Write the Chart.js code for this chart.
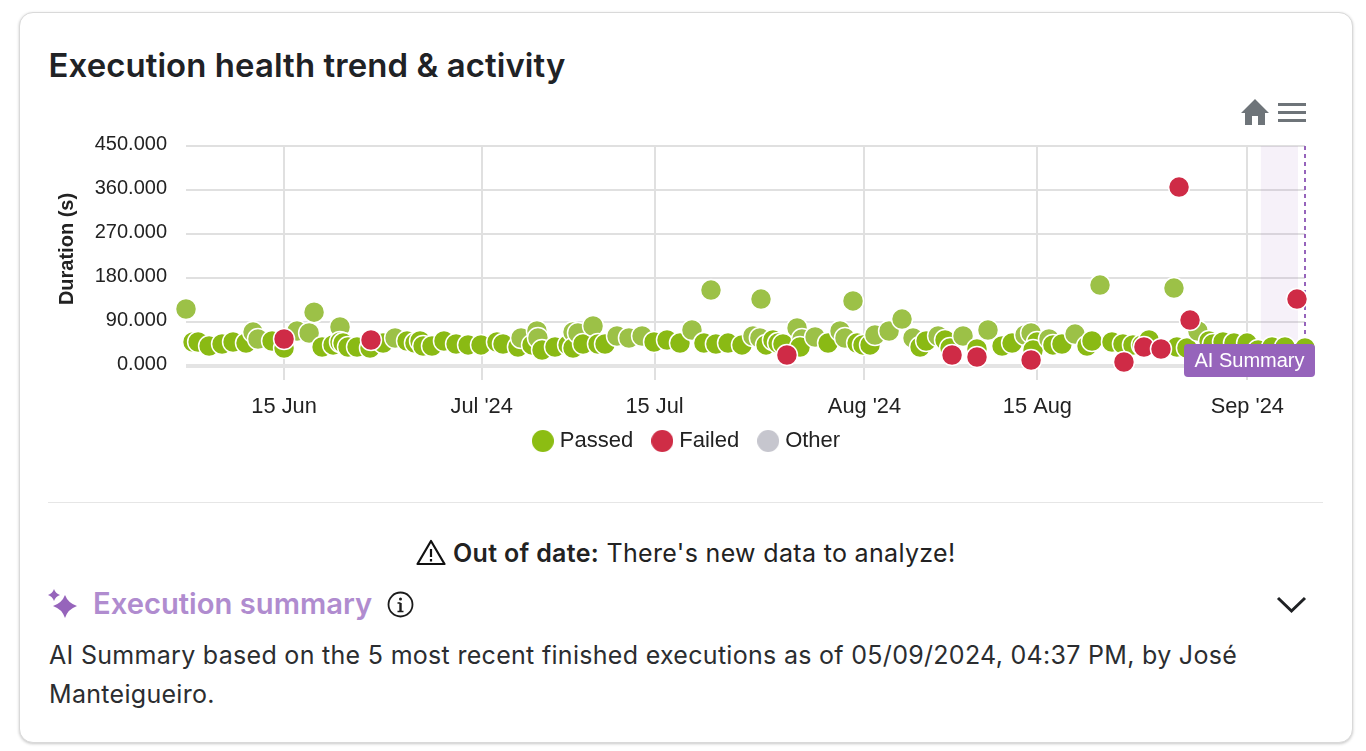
<!DOCTYPE html>
<html><head><meta charset="utf-8">
<script src="https://cdn.jsdelivr.net/npm/chart.js@4"></script>
<style>
html,body{margin:0;padding:0;background:#fff;width:1366px;height:751px;overflow:hidden}
body{font-family:Inter,sans-serif;color:#1f2124;position:relative}
#card{position:absolute;left:19px;top:12px;width:1332px;height:729px;border:1px solid #d9d9d9;border-radius:14px;box-shadow:0 1px 3px rgba(0,0,0,.22);background:#fff}
.abs{position:absolute;white-space:nowrap}
#title{left:48.500px;top:45px;font-size:32.900px;font-weight:600;line-height:40px;color:#202225;letter-spacing:.1px}
#chartWrap{position:absolute;left:40px;top:130px;width:1290px;height:332px}
#divider{position:absolute;left:48px;top:502px;width:1275px;height:1px;background:#e6e6e6}
#warn{left:453px;top:538px;font-size:25px;line-height:30px;color:#222;letter-spacing:.33px}
#warn b{font-weight:600}
#sum{left:93px;top:586px;font-size:29.200px;font-weight:600;line-height:36px;color:#b08ccf}
#body{left:49px;top:635.500px;width:1245px;white-space:normal;font-size:25px;line-height:39px;color:#2b2d30;letter-spacing:.3px}
</style></head><body>
<div id="card"></div>
<div id="title" class="abs">Execution health trend &amp; activity</div>
<svg class="abs" style="left:1240px;top:98px" width="30" height="28" viewBox="0 0 30 28"><path d="M15 1 L29 15 H25 V27 H18 V18 H12 V27 H5 V15 H1 Z" fill="#6e7479"/></svg>
<svg class="abs" style="left:1277px;top:102px" width="30" height="22" viewBox="0 0 30 22"><path d="M1 2.500H29M1 10.500H29M1 18.500H29" stroke="#6e7479" stroke-width="3"/></svg>
<div id="chartWrap"><canvas id="c" width="1290" height="332"></canvas></div>
<div id="divider"></div>
<svg class="abs" style="left:416px;top:539px" width="30" height="27" viewBox="0 0 30 27"><path d="M15 2 L28.500 25 H1.500 Z" fill="none" stroke="#111" stroke-width="2.200" stroke-linejoin="round"/><path d="M15 10V18M15 20V22.400" stroke="#111" stroke-width="2.200"/></svg>
<div id="warn" class="abs"><b>Out of date:</b> There's new data to analyze!</div>
<svg class="abs" style="left:47px;top:587px" width="32" height="34" viewBox="0 0 32 34"><path d="M18 8 Q21 16 30 19 Q21 22 18 31 Q15 22 6 19 Q15 16 18 8Z" fill="#9664bb"/><path d="M7 2 Q8.500 6.500 13 8 Q8.500 9.500 7 14 Q5.500 9.500 1 8 Q5.500 6.500 7 2Z" fill="#9664bb"/></svg>
<div id="sum" class="abs">Execution summary</div>
<svg class="abs" style="left:387px;top:591px" width="27" height="27" viewBox="0 0 27 27"><circle cx="13.500" cy="13.500" r="12" fill="none" stroke="#1b1b1b" stroke-width="1.800"/><path d="M13.500 12V20" stroke="#1b1b1b" stroke-width="2.400"/><circle cx="13.500" cy="8" r="1.500" fill="#1b1b1b"/><path d="M10.500 12H13.500M10.500 20.500H16.500" stroke="#1b1b1b" stroke-width="1.400"/></svg>
<svg class="abs" style="left:1276px;top:595px" width="31" height="20" viewBox="0 0 31 20"><path d="M2 3 L15.500 16 L29 3" fill="none" stroke="#1f2124" stroke-width="3"/></svg>
<div id="body" class="abs">AI Summary based on the 5 most recent finished executions as of 05/09/2024, 04:37 PM, by José Manteigueiro.</div>
<script>
// x values are days counted from 1 June 2024 (1 = 1 Jun, 31 = 1 Jul, 62 = 1 Aug, 93 = 1 Sep)
const passedDays = [7.06,7.63,8.04,8.93,9.98,10.87,11.92,12.49,12.89,14.03,15.0,16.05,17.03,17.43,18.08,18.97,19.53,19.53,19.78,20.18,20.91,21.96,23.02,23.99,24.96,25.6,26.01,26.26,26.98,27.95,28.93,29.9,30.95,32.24,32.73,33.94,34.19,35.08,35.48,35.56,35.89,36.94,38.0,38.4,38.4,38.8,39.21,40.02,40.42,40.99,41.96,42.93,43.99,44.96,46.01,47.06,48.03,49.57,49.0,49.97,50.95,52.08,52.97,53.62,53.53,54.03,54.59,55.0,55.4,56.54,56.94,56.78,58.0,59.05,60.02,60.42,61.07,61.4,61.88,62.45,62.85,63.99,65.04,65.93,66.5,66.99,67.96,68.52,68.93,69.98,71.11,72.0,73.14,73.95,75.0,75.49,75.97,75.65,76.94,77.26,77.99,79.05,81.07,80.02,80.42,82.04,82.93,83.74,84.47,85.04,87.06,87.3,88.11,89.0,89.9,90.22,91.03,91.92,92.98,93.87,95.0,96.05,97.67];
const passedValues = [116.6,49.1,49.1,40.9,45,49.1,47,69.5,55.2,51.1,36.8,71.6,67.5,110,38.9,43,79.8,49.1,47,38.9,38.9,36.8,47,57.3,51.1,47,51.1,40.9,40.9,51.1,45,43,43,49.1,45,38.9,57.3,43,71.6,57.3,32.7,38.9,43,69.5,36.8,67.5,45,81.8,45,45,61.4,57.3,61.4,49.1,53.2,47,73.6,155.4,47,45,47,43,61.4,137,57.3,43,53.2,47,45,77.7,55.2,38.9,59.3,47,71.6,57.3,133,47,43,43,63.4,71.6,96,57.3,38.9,51.1,61.4,53.2,36.8,61.4,34.8,73.6,40.9,47,63.4,67.5,49.1,32.7,55.2,43,45,65.4,165.6,40.9,51.1,49.1,45,43,43,53.2,159.5,38.9,36.8,71.6,51.1,45,49.1,47,47,32.7,38.9,38.9,36.8];
const failedDays = [15.0,22.04,55.72,69.09,71.11,75.49,83.01,84.63,86.01,87.47,88.36,97.02];
const failedValues = [55.2,53.2,22.5,22.5,18.4,12.3,8.2,38.9,34.8,366,94,137];
const otherDays = [];
const otherValues = [];
const xTickDays = [15,31,45,62,76,93];
const xTickLabels = ['15 Jun',"Jul '24",'15 Jul',"Aug '24",'15 Aug',"Sep '24"];
const yTicks = [0,90,180,270,360,450];
const seriesNames = ['Passed','Failed','Other'];
const xRange = [7.06,97.67];
const bandRange = [94.1,97.1];
const markerDay = 97.67;
const badgeText = 'AI Summary';

const pts = (xs,ys)=>xs.map((x,i)=>({x,y:ys[i]}));
const FONT='"Liberation Sans",Arial,sans-serif';

function legendDot(color){
 const cv=document.createElement('canvas');cv.width=22;cv.height=22;
 const g=cv.getContext('2d');g.fillStyle=color;g.beginPath();g.arc(11,11,11,0,Math.PI*2);g.fill();
 return cv;
}

const overlay={id:'overlay',
 beforeDatasetsDraw(ch){
  const {ctx,scales:{x},chartArea:a}=ch;
  ctx.save();
  ctx.fillStyle='rgba(150,100,187,.09)';
  const l=x.getPixelForValue(bandRange[0]),r=x.getPixelForValue(bandRange[1]);
  ctx.fillRect(l,a.top,r-l,a.bottom-a.top);
  const m=x.getPixelForValue(markerDay);
  ctx.strokeStyle='#9664bb';ctx.lineWidth=2;ctx.setLineDash([4,4]);
  ctx.beginPath();ctx.moveTo(m,a.top);ctx.lineTo(m,a.bottom);ctx.stroke();
  ctx.restore();
 },
 afterDatasetsDraw(ch){
  const {ctx,scales:{x},chartArea:a}=ch;
  const m=x.getPixelForValue(markerDay);
  const w=131,h=33,left=m+10-w,top=a.bottom-22;
  ctx.save();
  ctx.fillStyle='#9664bb';
  ctx.beginPath();ctx.roundRect(left,top,w,h,4);ctx.fill();
  ctx.fillStyle='#fff';ctx.font='20px '+FONT;ctx.textAlign='center';ctx.textBaseline='middle';
  ctx.fillText(badgeText,left+w/2,top+h/2+1);
  ctx.restore();
 }};

new Chart(document.getElementById('c'),{
 type:'scatter',
 data:{datasets:[
  {label:seriesNames[0],data:pts(passedDays,passedValues),order:3,
   backgroundColor:'#8cbd13',
   pointBackgroundColor:c=>(c.raw&&c.raw.y>=55)?'#9cc147':'#8aba14',
   pointBorderColor:'#fff',pointBorderWidth:1.5,pointRadius:10.5,pointHoverRadius:10.5,clip:false},
  {label:seriesNames[1],data:pts(failedDays,failedValues),order:2,
   backgroundColor:'#cf2d46',pointBackgroundColor:'#cf2b46',
   pointBorderColor:'#fff',pointBorderWidth:1.5,pointRadius:10.5,pointHoverRadius:10.5,clip:false},
  {label:seriesNames[2],data:pts(otherDays,otherValues),order:1,
   backgroundColor:'#c6c6ce',pointBackgroundColor:'#c6c6ce',pointBorderColor:'#fff',pointRadius:10.5,clip:false}
 ]},
 plugins:[overlay],
 options:{
  responsive:false,animation:false,
  layout:{padding:{top:16,right:8,left:15,bottom:0}},
  plugins:{tooltip:{enabled:false},title:{display:false},
   legend:{display:true,position:'bottom',
    onClick:null,
    labels:{usePointStyle:true,pointStyleWidth:12,boxHeight:15.5,padding:23,color:'#222',font:{family:FONT,size:22},
     generateLabels(ch){return ch.data.datasets.map((d,i)=>({text:d.label,datasetIndex:i,fillStyle:d.backgroundColor,strokeStyle:'#fff',lineWidth:0,pointStyle:legendDot(d.backgroundColor),hidden:false,fontColor:'#222'}));}}}},
  scales:{
   x:{type:'linear',min:xRange[0],max:xRange[1],
    afterBuildTicks(s){s.ticks=xTickDays.map(v=>({value:v}));},
    afterFit(s){s.height=41;s.paddingRight=25;s.paddingLeft=0;s._computeLabelArea=()=>undefined;},
    grid:{color:'#e0e0e0',lineWidth:2,tickLength:14,drawTicks:true,tickColor:'#e0e0e0'},
    border:{display:false},
    ticks:{autoSkip:false,maxRotation:0,padding:14,color:'#222',font:{family:FONT,size:21.800},
     callback:v=>xTickLabels[xTickDays.indexOf(v)]}},
   y:{type:'linear',min:0,max:450,
    afterBuildTicks(s){s.ticks=yTicks.map(v=>({value:v}));},
    afterFit(s){
     s.width=131;s.paddingTop=0;s.paddingBottom=0;
     if(!s._titleShifted){
      const draw=s.drawTitle;
      s.drawTitle=function(){s.ctx.save();s.ctx.translate(0,-7);draw.call(s);s.ctx.restore();};
      s._titleShifted=true;
     }
    },
    grid:{color:c=>c.tick&&c.tick.value===0?'#e4e4e4':'#e0e0e0',lineWidth:c=>c.tick&&c.tick.value===0?4:2,drawTicks:false},
    border:{display:false},
    title:{display:true,text:'Duration (s)',color:'#222',font:{family:FONT,size:20,weight:'bold'},padding:{top:0,bottom:0}},
    ticks:{padding:19,labelOffset:-2,color:'#222',font:{family:FONT,size:20},callback:v=>v.toFixed(3)}}
  }
 }
});
</script>
</body></html>
